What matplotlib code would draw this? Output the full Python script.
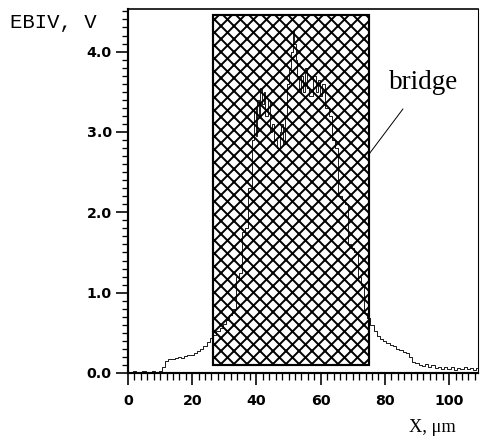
import matplotlib
matplotlib.use("Agg")
import matplotlib.pyplot as plt
from matplotlib.patches import Rectangle
from matplotlib.ticker import MultipleLocator, FixedLocator

# ---- data ----
x_um = [0, 1, 2, 3, 4, 5, 6, 7, 8, 9, 10,
        11, 12, 13, 14, 15, 16, 17, 18, 19, 20,
        21, 22, 23, 24, 25, 26, 27, 28, 29, 30,
        31, 32, 33, 34, 35, 36, 37, 38, 39, 39.5,
        40, 40.5, 41, 41.5, 42, 42.5, 43, 44, 44.5, 45,
        46, 47, 47.5, 48, 48.5, 49, 50, 50.5, 51, 51.5,
        52, 52.5, 53, 53.5, 54, 55, 55.5, 56, 57, 58,
        59, 59.5, 60, 61, 62, 63, 64, 65, 66, 67,
        68, 69, 70, 71, 72, 73, 74, 75, 76, 77,
        78, 79, 80, 81, 82, 83, 84, 85, 86, 87,
        88, 89, 90, 91, 92, 93, 94, 95, 96, 97,
        98, 99, 100, 101, 102, 103, 104, 105, 106, 107, 108, 109]
ebiv_v = [0.01, 0.00, 0.02, 0.00, 0.01, 0.02, 0.00, 0.01, 0.02, 0.01, 0.03,
          0.08, 0.15, 0.18, 0.17, 0.19, 0.20, 0.19, 0.21, 0.22, 0.23,
          0.25, 0.28, 0.30, 0.33, 0.38, 0.43, 0.47, 0.52, 0.56, 0.61,
          0.66, 0.72, 0.80, 1.20, 1.25, 1.75, 1.80, 2.30, 2.90, 3.30,
          2.95, 3.40, 3.20, 3.55, 3.35, 3.50, 3.20, 3.40, 3.00, 3.10,
          2.90, 2.80, 3.00, 3.10, 2.85, 3.20, 3.60, 3.80, 4.00, 4.25,
          4.10, 3.90, 3.70, 3.50, 3.70, 3.50, 3.80, 3.55, 3.45, 3.70,
          3.50, 3.65, 3.45, 3.60, 3.30, 3.20, 2.90, 2.80, 2.20, 2.15,
          2.10, 1.60, 1.55, 1.50, 1.20, 1.10, 0.75, 0.68, 0.60, 0.52,
          0.46, 0.42, 0.40, 0.37, 0.35, 0.33, 0.30, 0.29, 0.26, 0.25,
          0.20, 0.14, 0.12, 0.10, 0.09, 0.11, 0.08, 0.10, 0.06, 0.08,
          0.05, 0.07, 0.05, 0.07, 0.04, 0.06, 0.05, 0.07, 0.05, 0.06, 0.04, 0.06]
bridge_x = [26.5, 75.0]
bridge_y = [0.1, 4.46]
x_ticks = [0, 20, 40, 60, 80, 100]
x_ticklabels = ["0", "20", "40", "60", "80", "100"]
y_ticks = [0.0, 1.0, 2.0, 3.0, 4.0]
y_ticklabels = ["0.0", "1.0", "2.0", "3.0", "4.0"]

DPI = 78
plt.rcParams['hatch.linewidth'] = 1.8
fig = plt.figure(figsize=(481 / DPI, 442 / DPI), dpi=DPI)
ax = fig.add_axes([128 / 481, 1 - 373 / 442, 350 / 481, 364 / 442])

ax.add_patch(Rectangle((bridge_x[0], bridge_y[0]), bridge_x[1] - bridge_x[0],
                       bridge_y[1] - bridge_y[0], facecolor="white",
                       edgecolor="black", hatch="xx", linewidth=2, zorder=2))
ax.plot(x_um, ebiv_v, color="black", linewidth=0.8, drawstyle="steps-mid", zorder=3)

ax.set_xlim(0, 109)
ax.set_ylim(0, 4.53)

ax.xaxis.set_major_locator(FixedLocator(x_ticks))
ax.set_xticklabels(x_ticklabels)
ax.xaxis.set_minor_locator(MultipleLocator(2))
ax.yaxis.set_major_locator(FixedLocator(y_ticks))
ax.set_yticklabels(y_ticklabels)
ax.yaxis.set_minor_locator(MultipleLocator(0.1))

for lab in ax.get_xticklabels() + ax.get_yticklabels():
    lab.set_fontfamily("DejaVu Sans")
    lab.set_fontweight("bold")
    lab.set_fontsize(13)

ax.tick_params(axis="y", which="major", direction="out", length=11, width=1.5, pad=4)
ax.tick_params(axis="y", which="minor", direction="out", length=6, width=1.2)
ax.tick_params(axis="x", which="major", direction="out", length=11, width=1.5, pad=8)
ax.tick_params(axis="x", which="minor", direction="out", length=6, width=1.2)

ax.spines["left"].set_linewidth(2)
ax.spines["bottom"].set_linewidth(2)
ax.spines["top"].set_linewidth(1.5)
ax.spines["right"].set_linewidth(1.0)

fig.text(10 / 481, 1 - 22 / 442, "EBIV, V", family="Liberation Mono", fontsize=19,
         va="center", ha="left")
fig.text(432 / 481, 1 - 427 / 442, "X, \u03bcm", family="Liberation Serif", fontsize=17,
         va="center", ha="center")

ax.annotate("bridge", xy=(74.8, 2.71), xytext=(91.9, 3.62),
            family="Liberation Serif", fontsize=25, ha="center", va="center",
            arrowprops=dict(arrowstyle="-", color="black", linewidth=0.9,
                            shrinkA=14, shrinkB=0), zorder=4)

fig.savefig("out.png", dpi=DPI)
